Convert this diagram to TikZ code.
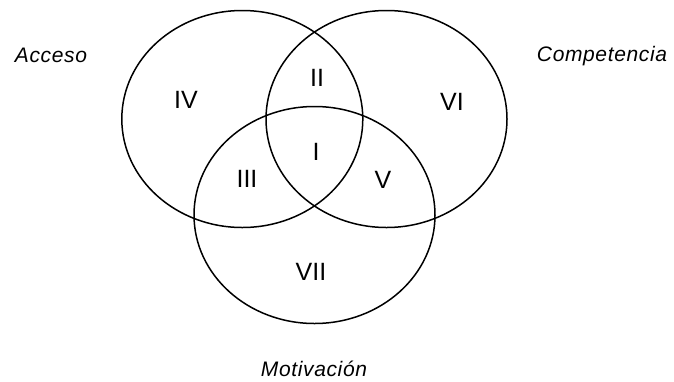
\documentclass[tikz,border=0pt]{standalone}
\usepackage{fontspec}
\setmainfont{Liberation Sans}
\newfontfamily\labfont[LetterSpace=3]{Liberation Sans}
\usetikzlibrary{shapes.geometric}
\begin{document}
\begin{tikzpicture}[x=1pt,y=-1pt,
  venn/.style={draw=black, line width=1.5pt, ellipse, inner sep=0pt,
               minimum width=241pt, minimum height=217pt},
  num/.style={anchor=base, inner sep=0pt, font=\fontsize{25}{25}\selectfont},
  lab/.style={anchor=base, inner sep=0pt, font=\labfont\itshape\fontsize{21}{21}\selectfont}]
\useasboundingbox (0,0) rectangle (674,381);
\node[venn] (acceso) at (242.3,119) {};
\node[venn] (compet) at (386.5,119) {};
\node[venn] (motiv) at (314.5,215) {};
\node[num] (r4) at (186,108.5) {IV};
\node[num] (r2) at (317,86) {II};
\node[num] (r6) at (452,110) {VI};
\node[num] (r1) at (316,160) {I};
\node[num] (r3) at (247,187) {III};
\node[num] (r5) at (383,188) {V};
\node[num] (r7) at (311,280) {VII};
\node[lab] (lacc) at (51,62) {Acceso};
\node[lab] (lcomp) at (602,61) {Competencia};
\node[lab] (lmot) at (314,376) {Motivación};
\end{tikzpicture}
\end{document}
